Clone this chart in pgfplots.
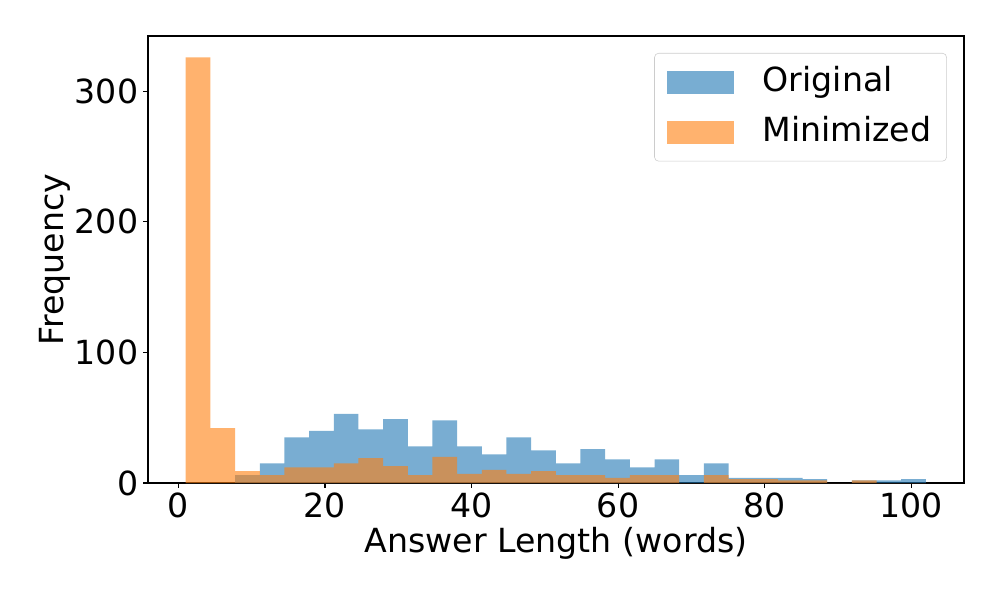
\documentclass[border=0pt]{standalone}
\usepackage{pgfplots}
\pgfplotsset{compat=1.18}
\usepackage{fontspec}
\setmainfont{DejaVu Sans}
\definecolor{tabblue}{HTML}{1F77B4}
\definecolor{taborange}{HTML}{FF7F0E}
\begin{document}
\begin{tikzpicture}
\path[use as bounding box] (-1.48in,-1.17in) rectangle (8.52in,4.83in);
\begin{axis}[
    scale only axis,
    width=8.16in, height=4.47in,
    xmin=-4.15, xmax=107.2,
    ymin=0, ymax=342.3,
    xtick={0,20,...,100},
    ytick={0,100,200,300},
    tick pos=left,
    tick align=outside,
    major tick length=3.5pt,
    every tick/.style={black, line width=0.8pt},
    axis line style={line width=0.8pt},
    /pgf/number format/assume math mode=true,
    tick label style={font=\fontsize{24}{29}\selectfont},
    label style={font=\fontsize{24}{29}\selectfont},
    xlabel={Answer Length (words)},
    ylabel={Frequency},
    ylabel shift=-3.6pt,
    legend style={
        at={(0.979,0.962)}, anchor=north east,
        draw=black!20, rounded corners=3pt,
        fill=white, fill opacity=0.8, text opacity=1,
        font=\fontsize{24}{29}\selectfont,
        inner xsep=9pt, inner ysep=3pt,
        nodes={text height=18pt, text depth=5pt, inner ysep=6.5pt},
        /tikz/every odd column/.append style={column sep=19pt},
    },
    legend cell align=left,
    legend image code/.code={\fill[#1, sharp corners] (0pt,-8.3pt) rectangle (48.2pt,8.3pt);},
]
% bins: 30 equal bins from 1 to 102
\addplot[ybar interval, draw=none, fill=tabblue, fill opacity=0.6] coordinates {
(1,0) (4.3667,0) (7.7333,6) (11.1,15) (14.4667,35) (17.8333,40)
(21.2,53) (24.5667,41) (27.9333,49) (31.3,28) (34.6667,48) (38.0333,28)
(41.4,22) (44.7667,35) (48.1333,25) (51.5,15) (54.8667,26) (58.2333,18)
(61.6,12) (64.9667,18) (68.3333,6) (71.7,15) (75.0667,4) (78.4333,4)
(81.8,4) (85.1667,3) (88.5333,0) (91.9,2) (95.2667,2) (98.6333,3) (102,3)
};
\addlegendentry{Original}
\addplot[ybar interval, draw=none, fill=taborange, fill opacity=0.6] coordinates {
(1,326) (4.3667,42) (7.7333,9) (11.1,6) (14.4667,12) (17.8333,12)
(21.2,15) (24.5667,19) (27.9333,13) (31.3,6) (34.6667,20) (38.0333,7)
(41.4,10) (44.7667,7) (48.1333,9) (51.5,6) (54.8667,6) (58.2333,4)
(61.6,6) (64.9667,6) (68.3333,0) (71.7,6) (75.0667,3) (78.4333,3)
(81.8,2) (85.1667,2) (88.5333,0) (91.9,2) (95.2667,0) (98.6333,0) (102,0)
};
\addlegendentry{Minimized}
\end{axis}
\end{tikzpicture}
\end{document}
